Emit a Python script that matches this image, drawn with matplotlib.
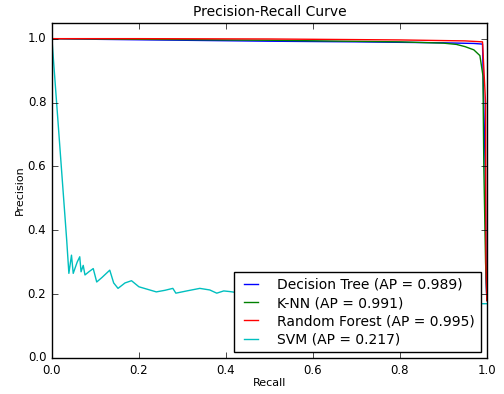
import numpy as np
import matplotlib
matplotlib.use("Agg")
import matplotlib.pyplot as plt

# precision-recall points
tree_recall = [0.0, 0.1, 0.3, 0.5, 0.7, 0.9, 0.97, 0.99, 0.996, 0.998, 1.0]
tree_precision = [1.0, 0.998, 0.995, 0.992, 0.99, 0.987, 0.985, 0.983, 0.6, 0.25, 0.18]

knn_recall = [0.0, 0.2, 0.5, 0.8, 0.9, 0.93, 0.95, 0.97, 0.984, 0.991, 0.993, 0.997, 1.0]
knn_precision = [1.0, 0.998, 0.995, 0.99, 0.986, 0.982, 0.975, 0.965, 0.947, 0.884, 0.6, 0.3, 0.18]

rf_recall = [0.0, 0.2, 0.5, 0.8, 0.95, 0.99, 0.997, 0.998, 1.0]
rf_precision = [1.0, 1.0, 0.999, 0.996, 0.993, 0.99, 0.8, 0.3, 0.18]

svm_recall = [0.0, 0.034, 0.039, 0.045, 0.049, 0.058, 0.064, 0.067, 0.072, 0.076, 0.085,
              0.095, 0.103, 0.115, 0.133, 0.142, 0.152, 0.168, 0.183, 0.2, 0.22, 0.24,
              0.26, 0.278, 0.285, 0.31, 0.34, 0.363, 0.379, 0.395, 0.409, 0.45, 0.55,
              0.65, 0.75, 0.85, 0.95, 0.985, 1.0]
svm_precision = [1.0, 0.369, 0.265, 0.322, 0.265, 0.3, 0.317, 0.27, 0.29, 0.26, 0.27,
                 0.28, 0.238, 0.252, 0.275, 0.235, 0.218, 0.235, 0.242, 0.223, 0.215, 0.207,
                 0.212, 0.218, 0.203, 0.21, 0.218, 0.213, 0.203, 0.21, 0.208, 0.2, 0.195,
                 0.19, 0.185, 0.18, 0.175, 0.17, 0.17]

labels = ["Decision Tree (AP = 0.989)", "K-NN (AP = 0.991)",
          "Random Forest (AP = 0.995)", "SVM (AP = 0.217)"]

plt.style.use("classic")
fig = plt.figure(figsize=(5.04, 3.94), dpi=100, facecolor="white")
ax = fig.add_axes([0.103, 0.0914, 0.863, 0.851])

ax.plot(tree_recall, tree_precision, color="b", lw=1, label=labels[0])
ax.plot(knn_recall, knn_precision, color="g", lw=1, label=labels[1])
ax.plot(rf_recall, rf_precision, color="r", lw=1, label=labels[2])
ax.plot(svm_recall, svm_precision, color="c", lw=1, label=labels[3])

ax.set_xlim(0, 1.0)
ax.set_ylim(0, 1.05)
ax.set_xticks(np.arange(0, 1.01, 0.2))
ax.set_yticks(np.arange(0, 1.01, 0.2))
ax.tick_params(labelsize=8.5)
ax.set_xlabel("Recall", fontsize=8, labelpad=1)
ax.set_ylabel("Precision", fontsize=8, labelpad=2)
ax.set_title("Precision-Recall Curve", fontsize=10)

ax.legend(loc="lower right", bbox_to_anchor=(0.986, 0.018), borderaxespad=0,
          fontsize=10, handlelength=1.6, handletextpad=1.1, labelspacing=0.3,
          borderpad=0.4, fancybox=False)

fig.savefig("out.png", dpi=100, facecolor="white")
